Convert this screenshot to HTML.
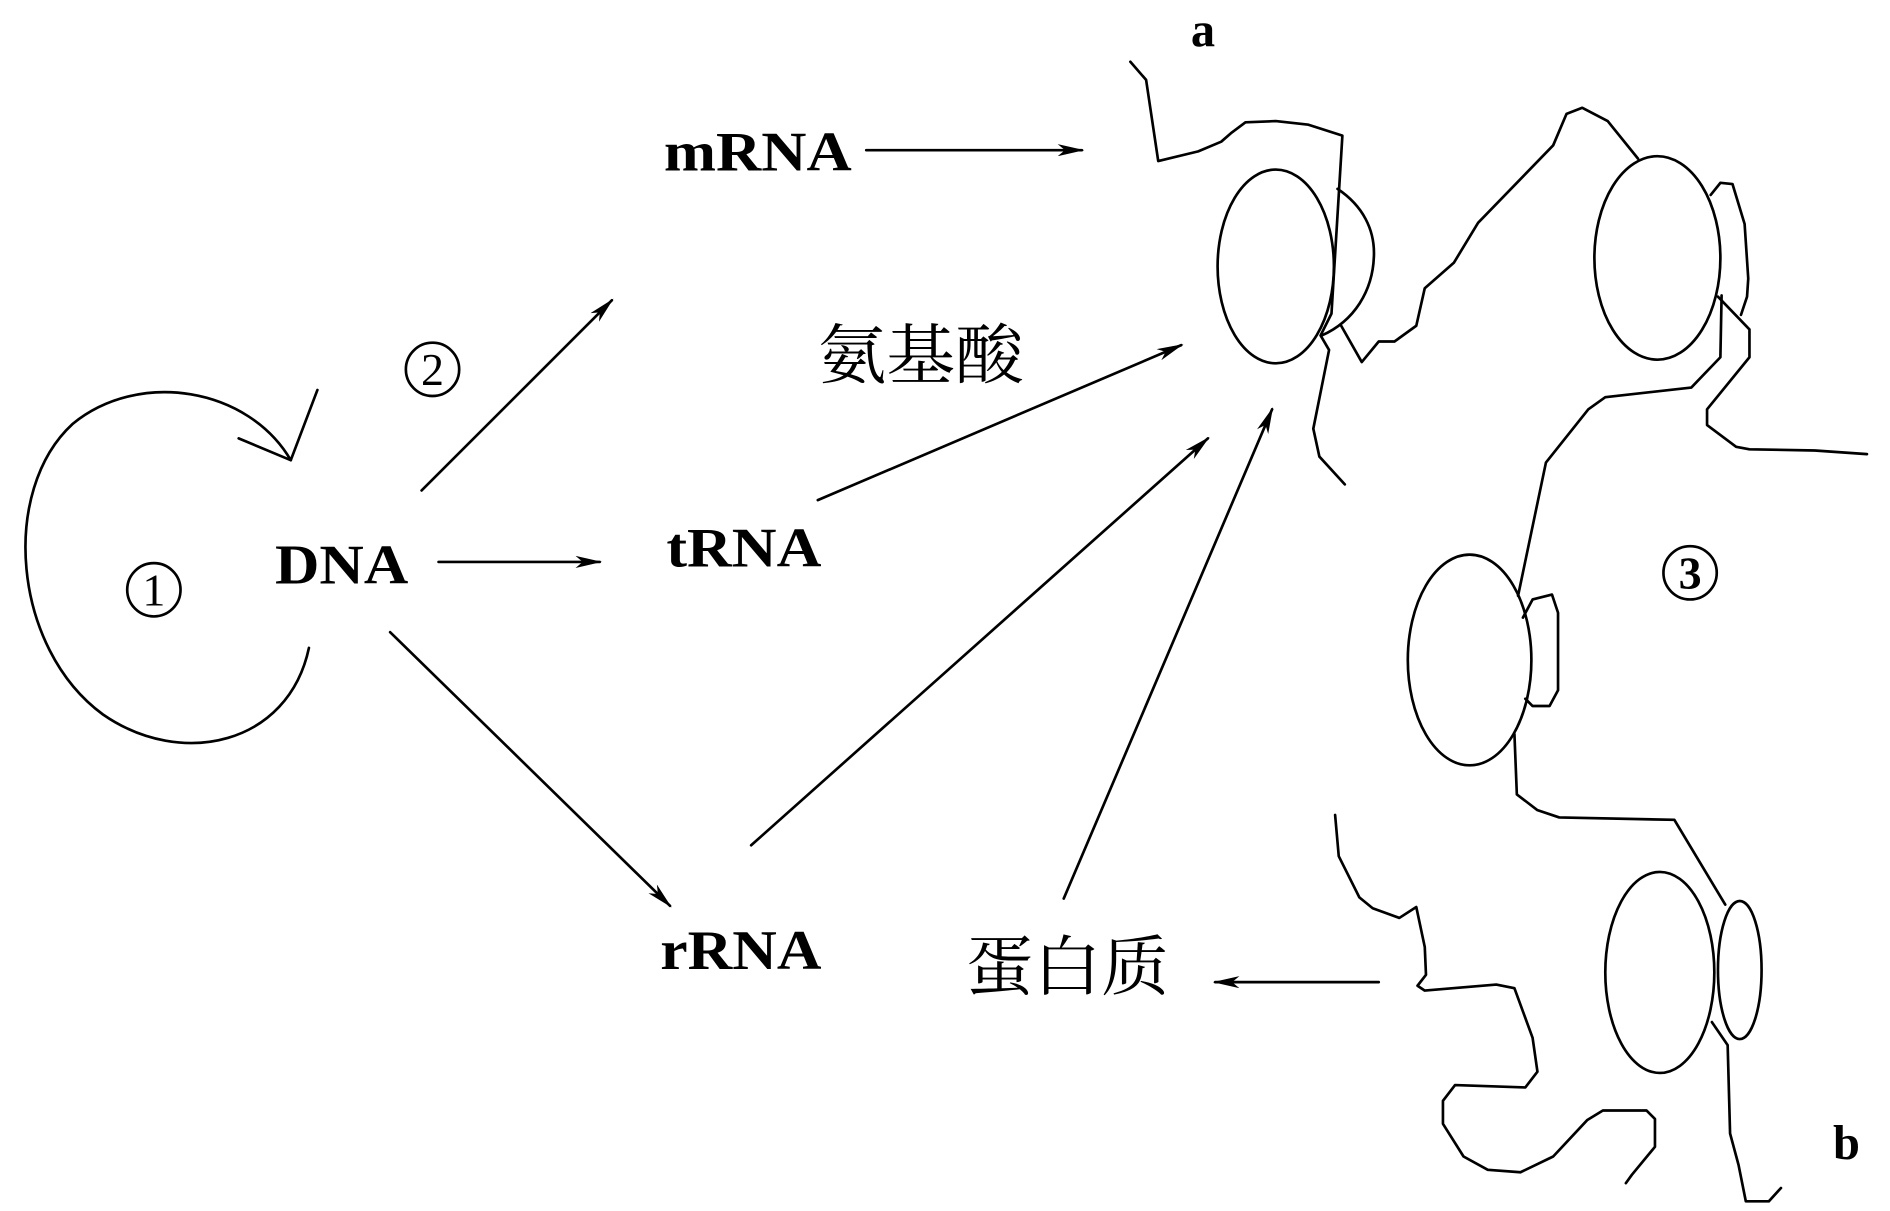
<!DOCTYPE html>
<html><head><meta charset="utf-8"><style>
html,body{margin:0;padding:0;background:#fff;}
svg{display:block;}
text{font-family:"Liberation Serif","Noto Serif CJK SC",serif;fill:#000;}
</style></head><body>
<svg width="1890" height="1211" viewBox="0 0 1560 1000" preserveAspectRatio="none" xmlns="http://www.w3.org/2000/svg">
<defs>
<marker id="ah" markerWidth="22" markerHeight="10" refX="20" refY="5" orient="auto" markerUnits="userSpaceOnUse">
<path d="M0,0 L22,5 L0,10 L6,5 Z" fill="#000"/>
</marker>
</defs>
<g fill="none" stroke="#000" stroke-width="2.2" stroke-linejoin="round" stroke-linecap="round">
<!-- loop 1 -->
<path d="M255,535 C238,615 150,635 85,590 C10,535 0,405 60,350 C115,305 205,320 240,380"/>
<path d="M197,362 L240,380 L262,322"/>
<!-- arrows -->
<line x1="715" y1="124" x2="893" y2="124" marker-end="url(#ah)"/>
<line x1="348" y1="405" x2="505" y2="248" marker-end="url(#ah)"/>
<line x1="675" y1="413" x2="975" y2="285" marker-end="url(#ah)"/>
<line x1="362" y1="464" x2="495" y2="464" marker-end="url(#ah)"/>
<line x1="322" y1="522" x2="553" y2="748" marker-end="url(#ah)"/>
<line x1="620" y1="698" x2="997" y2="362" marker-end="url(#ah)"/>
<line x1="878" y1="742" x2="1050" y2="338" marker-end="url(#ah)"/>
<line x1="1138" y1="811" x2="1003" y2="811" marker-end="url(#ah)"/>
<!-- ribosome 1 -->
<ellipse cx="1053" cy="220" rx="48" ry="80"/>
<path d="M1104,156 C1125,170 1135,190 1134,212 C1133,240 1118,265 1091,277"/>
<path d="M933,51 L946,66 L956,133 L989,125 L1008,117 L1016,110 L1028,101 L1053,100 L1080,103 L1108,112 L1099,259 L1090,277 L1097,289 L1084,354 L1089,377 L1110,400"/>
<path d="M1107,269 L1124,299 L1138,282 L1151,282 L1169,269 L1176,238 L1200,217 L1220,184 L1282,120 L1293,94 L1306,89 L1327,100 L1352,131"/>
<!-- ribosome 2 -->
<ellipse cx="1368" cy="213" rx="52" ry="84"/>
<path d="M1412,161 L1420,151 L1430,152 L1440,185 L1443,230 L1442,245 L1437,260"/>
<path d="M1421,244 L1420,295 L1396,320 L1325,328 L1311,338 L1276,382 L1253,492"/>
<path d="M1418,245 L1444,272 L1444,295 L1409,338 L1409,351 L1433,369 L1444,371 L1498,372 L1541,375"/>
<!-- ribosome 3 -->
<ellipse cx="1213" cy="545" rx="51" ry="87"/>
<path d="M1257,510 L1265,495 L1281,491 L1286,506 L1286,570 L1279,583 L1265,583 L1259,577"/>
<path d="M1250,606 L1252,656 L1269,669 L1287,675 L1382,677 L1424,747"/>
<!-- ribosome 4 -->
<ellipse cx="1370" cy="803" rx="45" ry="83"/>
<ellipse cx="1436" cy="801" rx="18" ry="57"/>
<path d="M1413,844 L1426,863 L1428,936 L1435,962 L1441,992 L1460,992 L1470,981"/>
<path d="M1102,673 L1105,707 L1122,741 L1133,750 L1155,758 L1169,749 L1176,782 L1177,805 L1170,814 L1176,818 L1235,813 L1250,816 L1265,857 L1269,885 L1259,898 L1201,896 L1191,909 L1191,928 L1208,955 L1228,966 L1255,968 L1282,955 L1310,925 L1323,917 L1359,917 L1366,924 L1366,947 L1347,970 L1342,977"/>
<!-- circled numbers -->
<circle cx="127" cy="487" r="22"/>
<circle cx="357" cy="305" r="22"/>
<circle cx="1395" cy="473" r="22"/>
</g>
<text x="127" y="500" font-size="38" text-anchor="middle">1</text>
<text x="357" y="318" font-size="38" text-anchor="middle">2</text>
<text x="1395" y="486" font-size="38" font-weight="bold" text-anchor="middle">3</text>
<g font-weight="bold">
<text x="983" y="38" font-size="40">a</text>
<text x="1513" y="957" font-size="40">b</text>
<text x="548" y="141" font-size="46" textLength="155" lengthAdjust="spacingAndGlyphs">mRNA</text>
<text x="227" y="482" font-size="46" textLength="110" lengthAdjust="spacingAndGlyphs">DNA</text>
<text x="550" y="468" font-size="46" textLength="128" lengthAdjust="spacingAndGlyphs">tRNA</text>
<text x="545" y="800" font-size="46" textLength="133" lengthAdjust="spacingAndGlyphs">rRNA</text>
</g>
<text x="675" y="312" font-size="54" textLength="170" lengthAdjust="spacingAndGlyphs">氨基酸</text>
<text x="797" y="817" font-size="54" textLength="168" lengthAdjust="spacingAndGlyphs">蛋白质</text>
</svg>
</body></html>
